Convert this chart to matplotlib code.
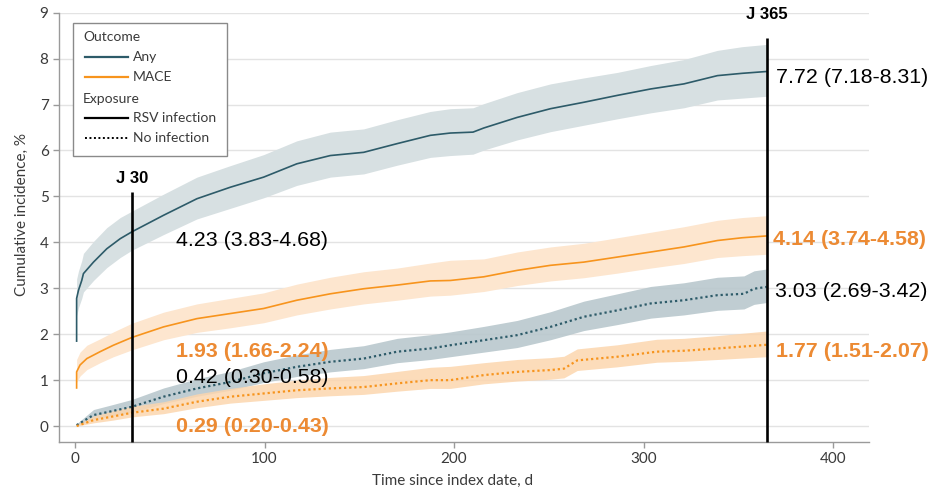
import matplotlib
matplotlib.use("Agg")
import matplotlib.pyplot as plt
from matplotlib import font_manager
from matplotlib.patches import Rectangle
from matplotlib.lines import Line2D

# ---------------- data ----------------
t_any_rsv = [0.8, 0.8, 1.8, 3.5, 4.4, 9.7, 16.7, 23.8, 30, 46.7, 64.3, 81.9, 99.5, 117, 134.7,
             152.3, 170, 187.5, 198, 210, 215.7, 233.3, 250.9, 268.5, 286.2, 303.8, 321.3, 339, 352, 365]
v_any_rsv = [1.85, 2.78, 2.96, 3.17, 3.32, 3.57, 3.86, 4.08, 4.23, 4.59, 4.95, 5.20, 5.42, 5.71, 5.89,
             5.96, 6.15, 6.33, 6.38, 6.40, 6.49, 6.72, 6.91, 7.05, 7.20, 7.34, 7.45, 7.63, 7.68, 7.72]
lo_any_rsv = [1.55, 2.40, 2.58, 2.78, 2.92, 3.17, 3.45, 3.67, 3.83, 4.17, 4.51, 4.74, 4.97, 5.24, 5.42,
              5.49, 5.68, 5.85, 5.89, 5.92, 6.01, 6.23, 6.41, 6.55, 6.69, 6.82, 6.93, 7.10, 7.14, 7.18]
hi_any_rsv = [2.20, 3.20, 3.38, 3.60, 3.76, 4.02, 4.32, 4.54, 4.68, 5.05, 5.42, 5.67, 5.91, 6.21, 6.40,
              6.47, 6.67, 6.85, 6.91, 6.93, 7.02, 7.26, 7.45, 7.58, 7.70, 7.85, 7.98, 8.18, 8.26, 8.31]

t_mace_rsv = [0.8, 0.8, 2.6, 6.2, 13.2, 20.2, 30, 46.7, 64.3, 81.9, 99.5, 117, 134.7, 152.3, 170,
              187.5, 198, 215.7, 233.3, 250.9, 268.5, 286.2, 303.8, 321.3, 339, 352, 365]
v_mace_rsv = [0.83, 1.18, 1.33, 1.47, 1.62, 1.76, 1.93, 2.16, 2.34, 2.45, 2.56, 2.74, 2.88, 2.99, 3.07,
              3.16, 3.17, 3.25, 3.39, 3.50, 3.57, 3.68, 3.79, 3.90, 4.04, 4.10, 4.14]
lo_mace_rsv = [0.62, 0.95, 1.09, 1.23, 1.38, 1.51, 1.66, 1.88, 2.04, 2.14, 2.25, 2.42, 2.55, 2.66, 2.74,
               2.83, 2.85, 2.93, 3.06, 3.16, 3.23, 3.33, 3.44, 3.54, 3.67, 3.71, 3.74]
hi_mace_rsv = [1.10, 1.45, 1.61, 1.76, 1.90, 2.05, 2.24, 2.48, 2.66, 2.78, 2.90, 3.09, 3.24, 3.36, 3.44,
               3.55, 3.61, 3.64, 3.79, 3.90, 3.98, 4.10, 4.22, 4.34, 4.48, 4.54, 4.58]

t_any_none = [0.8, 9.7, 20, 30, 46.7, 64.3, 81.9, 99.5, 117, 134.7, 152.3, 170, 187.5, 198, 215.7,
              233.3, 250.9, 268.5, 286.2, 303.8, 321.3, 339, 353, 358.3, 365]
v_any_none = [0.02, 0.24, 0.33, 0.42, 0.64, 0.82, 0.96, 1.15, 1.29, 1.40, 1.47, 1.62, 1.69, 1.76, 1.87,
              1.98, 2.16, 2.38, 2.52, 2.67, 2.74, 2.85, 2.88, 2.99, 3.03]
lo_any_none = [0.0, 0.15, 0.23, 0.30, 0.49, 0.65, 0.78, 0.95, 1.08, 1.18, 1.25, 1.38, 1.45, 1.51, 1.61,
               1.71, 1.88, 2.08, 2.21, 2.35, 2.42, 2.52, 2.55, 2.65, 2.69]
hi_any_none = [0.05, 0.36, 0.47, 0.58, 0.83, 1.03, 1.19, 1.40, 1.55, 1.67, 1.75, 1.91, 1.99, 2.05, 2.17,
               2.30, 2.49, 2.72, 2.88, 3.04, 3.12, 3.24, 3.27, 3.38, 3.42]

t_mace_none = [0.8, 9.7, 20, 30, 46.7, 64.3, 81.9, 99.5, 117, 134.7, 152.3, 170, 187.5, 198, 215.7,
               233.3, 250.9, 258, 265, 286.2, 307, 321.3, 339, 365]
v_mace_none = [0.0, 0.13, 0.21, 0.29, 0.38, 0.53, 0.64, 0.71, 0.78, 0.82, 0.85, 0.93, 1.00, 1.00, 1.11,
               1.18, 1.22, 1.25, 1.43, 1.51, 1.62, 1.64, 1.69, 1.77]
lo_mace_none = [0.0, 0.07, 0.13, 0.20, 0.27, 0.40, 0.50, 0.56, 0.62, 0.66, 0.69, 0.76, 0.82, 0.82, 0.92,
                0.98, 1.02, 1.05, 1.21, 1.29, 1.39, 1.41, 1.45, 1.51]
hi_mace_none = [0.03, 0.22, 0.33, 0.43, 0.53, 0.70, 0.82, 0.92, 1.00, 1.06, 1.10, 1.19, 1.28, 1.30, 1.38,
                1.45, 1.49, 1.52, 1.68, 1.77, 1.89, 1.91, 1.97, 2.07]

marker_days = [30, 365]
marker_labels = ["J 30", "J 365"]

labels_d30 = ["4.23 (3.83-4.68)", "1.93 (1.66-2.24)", "0.42 (0.30-0.58)", "0.29 (0.20-0.43)"]
labels_d365 = ["7.72 (7.18-8.31)", "4.14 (3.74-4.58)", "3.03 (2.69-3.42)", "1.77 (1.51-2.07)"]

x_ticks = [0, 100, 200, 300, 400]
y_ticks = list(range(0, 10))

# ---------------- style ----------------
avail = {f.name for f in font_manager.fontManager.ttflist}
axis_font = "Liberation Sans Narrow" if "Liberation Sans Narrow" in avail else "Lato"
ann_font = "Liberation Sans"

TEAL = "#2d5b69"
ORANGE = "#f7941d"
ORANGE_TXT = "#ec8a33"
FILL_TEAL_1 = "#d7e0e2"
FILL_TEAL_2 = "#b9c8cd"
FILL_ORANGE_1 = "#fde6cf"
FILL_ORANGE_2 = "#fcd6ae"
AX_GRAY = "#9a9a9a"
TXT_GRAY = "#3a3a3a"

W, H = 929, 491
fig = plt.figure(figsize=(W / 100, H / 100), dpi=100)
ax_l, ax_r, ax_t, ax_b = 59, 869, 12.7, 441.7
ax = fig.add_axes([ax_l / W, 1 - ax_b / H, (ax_r - ax_l) / W, (ax_b - ax_t) / H])
ymin, ymax = -0.34, 9.0
ax.set_xlim(-8.5, 419)
ax.set_ylim(ymin, ymax)

# grid
for yv in y_ticks:
    ax.axhline(yv, color="#e3e3e3", lw=1.0, zorder=0)

# bands
ax.fill_between(t_any_rsv, lo_any_rsv, hi_any_rsv, color=FILL_TEAL_1, lw=0, zorder=1)
ax.fill_between(t_mace_rsv, lo_mace_rsv, hi_mace_rsv, color=FILL_ORANGE_1, lw=0, zorder=1)
ax.fill_between(t_any_none, lo_any_none, hi_any_none, color=FILL_TEAL_2, lw=0, zorder=1, alpha=0.9)
ax.fill_between(t_mace_none, lo_mace_none, hi_mace_none, color=FILL_ORANGE_2, lw=0, zorder=1.1, alpha=0.85)

# lines
ax.plot(t_any_rsv, v_any_rsv, color=TEAL, lw=1.2, zorder=3)
ax.plot(t_mace_rsv, v_mace_rsv, color=ORANGE, lw=1.2, zorder=3)
dot = (0, (1.0, 1.3))
ax.plot(t_any_none, v_any_none, color=TEAL, lw=1.6, ls=dot, zorder=3)
ax.plot(t_mace_none, v_mace_none, color=ORANGE, lw=1.6, ls=dot, zorder=3)

# day markers
tops = [5.09, 8.46]
label_y = [5.39, 8.97]
for d, top, lab, ly in zip(marker_days, tops, marker_labels, label_y):
    ax.plot([d, d], [ymin, top], color="black", lw=1.9, zorder=5, clip_on=False,
            solid_capstyle="butt")
    ax.text(d, ly, lab, ha="center", va="center", fontsize=12, fontweight="bold",
            family=ann_font, color="black", zorder=6, clip_on=False)

# annotations
ann_fs = 15.4
pos30 = [(53.4, 4.04), (53.4, 1.62), (53.4, 1.05), (53.4, 0.0)]
for (x, y), lab, col, bold in zip(pos30, labels_d30,
                                  ["black", ORANGE_TXT, "black", ORANGE_TXT],
                                  [False, True, False, True]):
    ax.text(x, y, lab, ha="left", va="center", fontsize=ann_fs, color=col,
            fontweight="bold" if bold else "normal", family=ann_font, zorder=6, clip_on=False)
pos365 = [(369.8, 7.59), (368.5, 4.06), (369.5, 2.94), (369.8, 1.62)]
for (x, y), lab, col, bold in zip(pos365, labels_d365,
                                  ["black", ORANGE_TXT, "black", ORANGE_TXT],
                                  [False, True, False, True]):
    ax.text(x, y, lab, ha="left", va="center", fontsize=ann_fs, color=col,
            fontweight="bold" if bold else "normal", family=ann_font, zorder=6, clip_on=False)

# axes styling
for s in ["top", "right"]:
    ax.spines[s].set_visible(False)
for s in ["left", "bottom"]:
    ax.spines[s].set_color(AX_GRAY)
    ax.spines[s].set_linewidth(1.0)
ax.spines["left"].set_bounds(ymin, 9)
ax.set_xticks(x_ticks)
ax.set_yticks(y_ticks)
ax.tick_params(axis="both", colors=AX_GRAY, length=4, width=1, labelcolor=TXT_GRAY,
               labelsize=11)
for lab in ax.get_xticklabels() + ax.get_yticklabels():
    lab.set_family(axis_font)
ax.set_xlabel("Time since index date, d", family=axis_font, fontsize=11, color=TXT_GRAY)
ax.set_ylabel("Cumulative incidence, %", family=axis_font, fontsize=11, color=TXT_GRAY)
ax.xaxis.set_label_coords((453 - ax_l) / (ax_r - ax_l), -(481 - ax_b) / (ax_b - ax_t))
ax.yaxis.set_label_coords((22 - ax_l) / (ax_r - ax_l), (ax_b - 215) / (ax_b - ax_t))
ax.xaxis.label.set_va("center")
ax.yaxis.label.set_va("center")


# legend (manual, in figure pixels)
def fx(px):
    return px / W


def fy(py):
    return 1 - py / H


fig.patches.append(Rectangle((fx(73), fy(156)), fx(227) - fx(73), fy(23) - fy(156),
                             transform=fig.transFigure, facecolor="white", edgecolor="#8a8a8a",
                             lw=1.0, zorder=10))
leg_fs = 10
rows = [("Outcome", None, None), ("Any", TEAL, "-"), ("MACE", ORANGE, "-"),
        ("Exposure", None, None), ("RSV infection", "black", "-"), ("No infection", "black", dot)]
row_y = [36.7, 56.7, 76.7, 99.3, 118.3, 137.7]
for (lab, col, ls), py in zip(rows, row_y):
    if col is None:
        fig.text(fx(83), fy(py), lab, ha="left", va="center", fontsize=leg_fs, family=axis_font,
                 color=TXT_GRAY, zorder=11)
    else:
        fig.add_artist(Line2D([fx(85), fx(128)], [fy(py), fy(py)], color=col, lw=1.6 if ls == "-" else 1.4,
                              ls=ls, transform=fig.transFigure, zorder=11))
        fig.text(fx(133), fy(py), lab, ha="left", va="center", fontsize=leg_fs, family=axis_font,
                 color=TXT_GRAY, zorder=11)

fig.savefig("out.png", dpi=100, facecolor="white")
